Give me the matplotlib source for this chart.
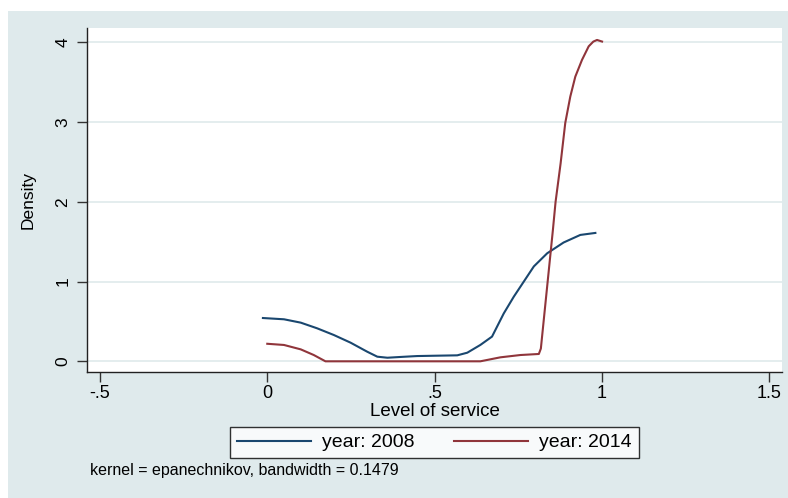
import matplotlib
matplotlib.use("Agg")
import matplotlib.pyplot as plt
from matplotlib.patches import Rectangle

plt.rcParams['font.family'] = ['Liberation Sans', 'DejaVu Sans']

# kernel density estimates
x_2008 = [-0.013, 0.05, 0.10, 0.149, 0.199, 0.249, 0.299, 0.329, 0.359, 0.40, 0.448, 0.50, 0.568,
          0.598, 0.637, 0.672, 0.707, 0.737, 0.767, 0.797, 0.837, 0.886, 0.936, 0.981]
d_2008 = [0.543, 0.527, 0.485, 0.414, 0.33, 0.234, 0.12, 0.058, 0.045, 0.055, 0.066, 0.07, 0.075,
          0.108, 0.205, 0.31, 0.60, 0.81, 1.0, 1.19, 1.355, 1.49, 1.585, 1.61]

x_2014 = [0.0, 0.05, 0.10, 0.139, 0.174, 0.30, 0.45, 0.60, 0.637, 0.697, 0.757,
          0.812, 0.818, 0.854, 0.862, 0.877, 0.891, 0.906, 0.921, 0.941,
          0.961, 0.975, 0.986, 1.001]
d_2014 = [0.22, 0.205, 0.15, 0.079, 0.0, 0.0, 0.0, 0.0, 0.0, 0.05, 0.079,
          0.092, 0.16, 1.647, 2.0, 2.48, 2.99, 3.32, 3.57, 3.78,
          3.95, 4.01, 4.03, 4.01]

x_ticks = [-0.5, 0, 0.5, 1, 1.5]
x_tick_labels = ["-.5", "0", ".5", "1", "1.5"]
y_ticks = [0, 1, 2, 3, 4]

bg = "#dfeaec"
blue = "#1a476f"
red = "#90353b"

fig = plt.figure(figsize=(7.88, 4.98), dpi=100)
fig.patches.append(Rectangle((8 / 788, 0), 1, 1 - 11 / 498, transform=fig.transFigure,
                             facecolor=bg, edgecolor="none", zorder=-5))

ax = fig.add_axes([87 / 788, 1 - 372 / 498, (782 - 87) / 788, (372 - 28) / 498])
ax.set_facecolor("white")

ax.plot(x_2008, d_2008, color=blue, lw=1.5, label="year: 2008")
ax.plot(x_2014, d_2014, color=red, lw=1.5, label="year: 2014")

ax.set_xlim(-0.539, 1.539)
ax.set_ylim(-0.134, 4.18)
ax.set_xticks(x_ticks)
ax.set_xticklabels(x_tick_labels)
ax.set_yticks(y_ticks)
ax.tick_params(axis="both", direction="out", length=7, width=1, color="#333333")
ax.tick_params(axis="x", labelsize=13, pad=2)
ax.tick_params(axis="y", labelsize=12.5, pad=5)
for lab in ax.get_yticklabels():
    lab.set_rotation(90)
    lab.set_va("center")

ax.grid(axis="y", color="#e2eced", lw=1.3)
ax.set_axisbelow(True)
for s in ["top", "right"]:
    ax.spines[s].set_visible(False)
for s in ["left", "bottom"]:
    ax.spines[s].set_color("#222222")
    ax.spines[s].set_linewidth(1)

ax.set_xlabel("Level of service", fontsize=13.5, labelpad=1)
ax.set_ylabel("Density", fontsize=12.5, labelpad=14)

leg = ax.legend(loc="upper center", bbox_to_anchor=(0.5, -0.16), ncol=2, frameon=True,
                fancybox=False, edgecolor="black", fontsize=14, handlelength=3.8,
                handletextpad=0.6, columnspacing=2.0, borderpad=0.35, borderaxespad=0)
leg.get_frame().set_linewidth(1)

fig.text(90 / 788, 1 - 470 / 498, "kernel = epanechnikov, bandwidth = 0.1479",
         fontsize=11.5, va="center", ha="left")

fig.savefig("out.png", dpi=100)
